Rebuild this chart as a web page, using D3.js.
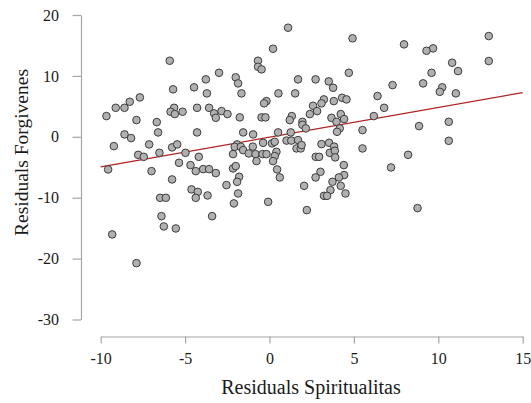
<!DOCTYPE html>
<html>
<head>
<meta charset="utf-8">
<script src="https://cdn.jsdelivr.net/npm/d3@7"></script>
<style>
    body { margin: 0; background: #ffffff; }
    svg { display: block; }
    svg text { font-family: 'Liberation Serif', 'Times New Roman', serif; }
</style>
</head>
<body>
<div id="residuals-plot"></div>
<script>
// residuals
var spiritX = [
    -5.91, -2.99, -3.77, -4.47, -5.71, -3.71, -7.68, -8.28, -9.11, -8.59,
    -9.66, -7.88, -6.68, -5.65, -5.86, -5.61, -5.15, -4.29, -3.58, -3.28,
    -2.84, -2.49, -3.18, -6.60, -4.29, -8.59, -8.20, -9.22, -7.13, -5.77,
    -5.47, -6.52, -7.78, -7.45, -4.98, -4.19, -9.56, -6.99, -5.36, -4.68,
    -4.37, -3.93, -3.58, -3.18, -5.77, -4.62, -4.25, -4.37, -3.67, -6.48,
    -6.14, -6.40, -6.26, -5.55, -3.40, -9.32, -7.88, -2.55, -2.11, -2.00,
    -1.86, -1.66, -1.76, -1.56, -0.97, -1.92, -2.06, -1.70, -1.56, -1.23,
    -0.83, -0.41, -0.18, -2.16, -2.16, -2.00, -1.80, -1.92, -1.86, -0.08,
    -0.77, 1.10, 0.21, -0.68, -0.68, -0.47, 0.53, 1.52, 1.69, -0.18,
    -0.32, -0.47, -0.24, 1.32, 1.20, 0.51, 1.26, -0.38, 0.15, 0.31,
    1.01, 1.29, 1.69, 0.41, 0.31, 0.21, 0.45, 0.61, 1.60, 1.85,
    1.90, -0.99, 4.92, 4.70, 2.73, 3.51, 3.77, 6.40, 3.22, 3.08,
    3.81, 4.30, 4.56, 2.58, 2.82, 2.39, 1.95, 1.95, 2.15, 3.67,
    4.22, 4.42, 3.97, 4.16, 4.00, 6.18, 5.51, 3.08, 3.53, 3.83,
    3.57, 3.87, 5.51, 2.74, 2.94, 3.89, 4.40, 3.02, 2.73, 2.05,
    4.42, 4.11, 3.73, 4.22, 3.61, 3.23, 3.41, 4.50, 2.21, 12.99,
    7.97, 9.69, 9.30, 12.99, 10.82, 11.17, 9.60, 9.10, 7.29, 10.23,
    10.09, 11.04, 6.79, 8.86, 10.62, 10.62, 8.21, 7.20, 8.77
];
var forgiveY = [
    12.49, 10.51, 9.43, 8.12, 7.79, 7.13, 6.47, 5.75, 4.76, 4.76,
    3.40, 2.74, 2.41, 4.76, 4.11, 3.73, 4.11, 4.76, 4.76, 3.84,
    4.22, 3.73, 3.12, 0.72, 0.72, 0.39, -0.21, -1.53, -1.25, -1.74,
    -1.25, -2.63, -2.96, -3.29, -2.63, -3.29, -5.36, -5.64, -4.27, -4.65,
    -5.64, -5.31, -5.31, -5.96, -7.00, -8.64, -9.04, -10.02, -9.63, -10.02,
    -10.02, -13.03, -14.72, -15.05, -13.03, -16.03, -20.75, -7.93, -10.94, 9.76,
    8.77, 7.13, 3.19, 0.72, 0.39, -1.25, -1.64, -1.64, -2.19, -2.73,
    -2.84, -2.84, -2.84, -2.84, -5.19, -4.81, -6.57, -7.39, -9.30, -10.68,
    -3.99, 17.91, 14.46, 12.49, 11.50, 11.07, 7.13, 7.13, 9.43, 5.86,
    5.49, 3.19, 3.19, 3.40, 2.74, 0.72, 0.72, -0.99, -1.08, -0.82,
    -0.62, -0.62, -0.54, -2.46, -3.17, -3.99, -5.36, -6.67, -1.91, -1.91,
    -1.36, -1.61, 16.17, 10.51, 9.43, 9.10, 8.05, 6.69, 6.14, 5.49,
    5.86, 6.41, 6.14, 5.09, 4.22, 3.73, 2.46, 1.97, 1.38, 3.12,
    3.73, 2.91, 2.46, 1.38, 0.82, 3.40, 1.10, -1.20, -0.99, -1.61,
    -2.63, -2.30, -1.91, -3.29, -3.29, -3.38, -4.65, -5.75, -6.67, -8.05,
    -6.29, -6.67, -7.39, -8.05, -8.76, -9.69, -9.69, -9.30, -12.04, 16.54,
    15.18, 14.52, 14.13, 12.44, 12.16, 10.79, 10.51, 8.77, 8.49, 8.12,
    7.39, 7.13, 4.76, 1.76, 2.46, -0.66, -2.96, -5.03, -11.71
];

// fitted line, ends
var fitX = [-10, 15];
var fitY = [-4.94, 7.26];

var xTicks = [-10, -5, 0, 5, 10, 15];
var yTicks = [-30, -20, -10, 0, 10, 20];

var width = 531;
var height = 403;
var axisColor = '#a6a6a6';
var serif = 'Liberation Serif, Times New Roman, serif';

var x = d3.scaleLinear()
    .domain([-10, 15])
    .range([100.7, 522.7]);
var y = d3.scaleLinear()
    .domain([-30, 20])
    .range([319.5, 15]);

// plain hyphen, as in the picture
var plainNumber = function (d) {
    return String(d);
};

var svg = d3.select('#residuals-plot')
    .append('svg')
    .attr('width', width)
    .attr('height', height);

// y axis, set off to the left
var yAxis = svg.append('g')
    .attr('transform', 'translate(81,0)')
    .call(d3.axisLeft(y)
        .tickValues(yTicks)
        .tickFormat(plainNumber)
        .tickSize(8.5)
        .tickPadding(13.5)
        .tickSizeOuter(0));

// x axis, set off below
var xAxis = svg.append('g')
    .attr('transform', 'translate(0,336.5)')
    .call(d3.axisBottom(x)
        .tickValues(xTicks)
        .tickFormat(plainNumber)
        .tickSize(7)
        .tickPadding(9)
        .tickSizeOuter(0));

[xAxis, yAxis].forEach(function (g) {
    g.attr('font-family', serif)
        .attr('font-size', 16);
    g.selectAll('.domain')
        .attr('stroke', axisColor)
        .attr('stroke-width', 1.2);
    g.selectAll('.tick line')
        .attr('stroke', axisColor)
        .attr('stroke-width', 1.2);
    g.selectAll('.tick text')
        .attr('fill', '#1a1a1a')
        .style('font-size', '16px');
});

// regression line
svg.append('line')
    .attr('x1', x(fitX[0]))
    .attr('y1', y(fitY[0]))
    .attr('x2', x(fitX[1]))
    .attr('y2', y(fitY[1]))
    .attr('stroke', '#b22222')
    .attr('stroke-width', 1.3);

// points
svg.append('g')
    .selectAll('circle')
    .data(spiritX.map(function (d, i) {
        return { x: d, y: forgiveY[i] };
    }))
    .enter()
    .append('circle')
    .attr('cx', function (d) { return x(d.x); })
    .attr('cy', function (d) { return y(d.y); })
    .attr('r', 3.8)
    .attr('fill', '#b0b0b0')
    .attr('stroke', '#3c3c3c')
    .attr('stroke-width', 1);

// axis titles
svg.append('text')
    .attr('x', 311)
    .attr('y', 393.5)
    .attr('text-anchor', 'middle')
    .attr('font-size', 20)
    .attr('fill', '#1a1a1a')
    .text('Residuals Spiritualitas');

svg.append('text')
    .attr('transform', 'translate(28,152.5) rotate(-90)')
    .attr('text-anchor', 'middle')
    .attr('font-size', 19.5)
    .attr('fill', '#1a1a1a')
    .text('Residuals Forgivenes');
</script>
</body>
</html>
